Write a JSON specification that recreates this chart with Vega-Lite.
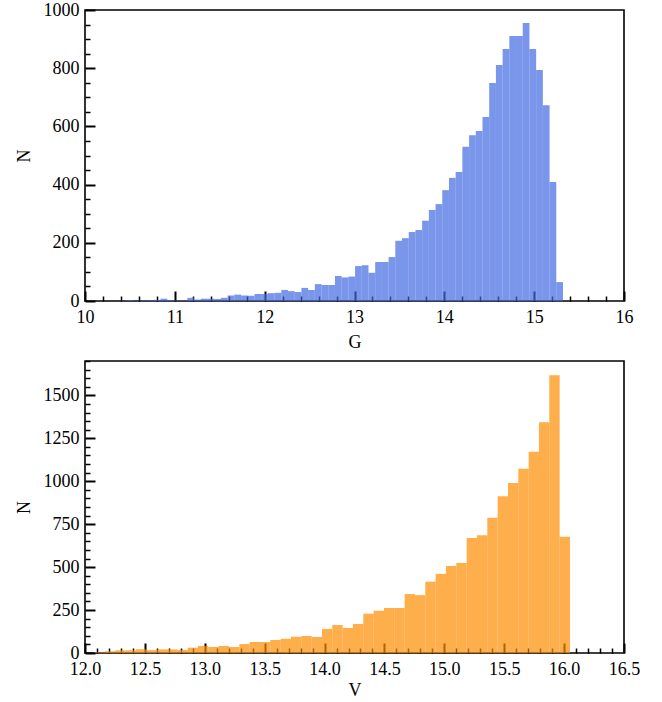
{
  "$schema": "https://vega.github.io/schema/vega-lite/v6.json",
  "padding": {"left": 14, "top": 0, "right": 10, "bottom": 4},
  "config": {
    "font": "Liberation Serif, DejaVu Serif, serif",
    "view": {"stroke": "#000000", "strokeWidth": 1.6},
    "axis": {
      "grid": false,
      "domain": false,
      "labelFont": "Liberation Serif, DejaVu Serif, serif",
      "labelFontSize": 18,
      "labelColor": "#000000",
      "labelFlush": false,
      "labelOverlap": false,
      "titleFont": "Liberation Serif, DejaVu Serif, serif",
      "titleFontSize": 18,
      "titleFontWeight": "normal",
      "titleColor": "#000000",
      "tickColor": "#000000"
    },
    "concat": {"spacing": 7}
  },
  "datasets": {
    "gmag": [
      {"g0": 10.3932, "g1": 10.4679, "n": 1},
      {"g0": 10.4679, "g1": 10.5426, "n": 3},
      {"g0": 10.5426, "g1": 10.6172, "n": 1},
      {"g0": 10.6172, "g1": 10.6919, "n": 2},
      {"g0": 10.6919, "g1": 10.7665, "n": 3},
      {"g0": 10.7665, "g1": 10.8412, "n": 4},
      {"g0": 10.8412, "g1": 10.9159, "n": 8},
      {"g0": 10.9159, "g1": 10.9905, "n": 3},
      {"g0": 10.9905, "g1": 11.0652, "n": 2},
      {"g0": 11.0652, "g1": 11.1398, "n": 2},
      {"g0": 11.1398, "g1": 11.2145, "n": 11},
      {"g0": 11.2145, "g1": 11.2892, "n": 5},
      {"g0": 11.2892, "g1": 11.3638, "n": 8},
      {"g0": 11.3638, "g1": 11.4385, "n": 8},
      {"g0": 11.4385, "g1": 11.5131, "n": 7},
      {"g0": 11.5131, "g1": 11.5878, "n": 11},
      {"g0": 11.5878, "g1": 11.6625, "n": 19},
      {"g0": 11.6625, "g1": 11.7371, "n": 22},
      {"g0": 11.7371, "g1": 11.8118, "n": 19},
      {"g0": 11.8118, "g1": 11.8864, "n": 18},
      {"g0": 11.8864, "g1": 11.9611, "n": 24},
      {"g0": 11.9611, "g1": 12.0358, "n": 24},
      {"g0": 12.0358, "g1": 12.1104, "n": 27},
      {"g0": 12.1104, "g1": 12.1851, "n": 28},
      {"g0": 12.1851, "g1": 12.2597, "n": 38},
      {"g0": 12.2597, "g1": 12.3344, "n": 34},
      {"g0": 12.3344, "g1": 12.4091, "n": 31},
      {"g0": 12.4091, "g1": 12.4837, "n": 45},
      {"g0": 12.4837, "g1": 12.5584, "n": 38},
      {"g0": 12.5584, "g1": 12.6330, "n": 58},
      {"g0": 12.6330, "g1": 12.7077, "n": 55},
      {"g0": 12.7077, "g1": 12.7824, "n": 55},
      {"g0": 12.7824, "g1": 12.8570, "n": 86},
      {"g0": 12.8570, "g1": 12.9317, "n": 81},
      {"g0": 12.9317, "g1": 13.0063, "n": 84},
      {"g0": 13.0063, "g1": 13.0810, "n": 120},
      {"g0": 13.0810, "g1": 13.1557, "n": 123},
      {"g0": 13.1557, "g1": 13.2303, "n": 97},
      {"g0": 13.2303, "g1": 13.3050, "n": 134},
      {"g0": 13.3050, "g1": 13.3796, "n": 134},
      {"g0": 13.3796, "g1": 13.4543, "n": 151},
      {"g0": 13.4543, "g1": 13.5290, "n": 207},
      {"g0": 13.5290, "g1": 13.6036, "n": 216},
      {"g0": 13.6036, "g1": 13.6783, "n": 237},
      {"g0": 13.6783, "g1": 13.7529, "n": 244},
      {"g0": 13.7529, "g1": 13.8276, "n": 276},
      {"g0": 13.8276, "g1": 13.9023, "n": 313},
      {"g0": 13.9023, "g1": 13.9769, "n": 333},
      {"g0": 13.9769, "g1": 14.0516, "n": 381},
      {"g0": 14.0516, "g1": 14.1262, "n": 423},
      {"g0": 14.1262, "g1": 14.2009, "n": 443},
      {"g0": 14.2009, "g1": 14.2756, "n": 530},
      {"g0": 14.2756, "g1": 14.3502, "n": 570},
      {"g0": 14.3502, "g1": 14.4249, "n": 584},
      {"g0": 14.4249, "g1": 14.4995, "n": 632},
      {"g0": 14.4995, "g1": 14.5742, "n": 749},
      {"g0": 14.5742, "g1": 14.6489, "n": 811},
      {"g0": 14.6489, "g1": 14.7235, "n": 866},
      {"g0": 14.7235, "g1": 14.7982, "n": 911},
      {"g0": 14.7982, "g1": 14.8728, "n": 911},
      {"g0": 14.8728, "g1": 14.9475, "n": 955},
      {"g0": 14.9475, "g1": 15.0222, "n": 866},
      {"g0": 15.0222, "g1": 15.0968, "n": 794},
      {"g0": 15.0968, "g1": 15.1715, "n": 673},
      {"g0": 15.1715, "g1": 15.2461, "n": 409},
      {"g0": 15.2461, "g1": 15.3208, "n": 65}
    ],
    "vmag": [
      {"v0": 12.0806, "v1": 12.1669, "n": 4},
      {"v0": 12.1669, "v1": 12.2531, "n": 10},
      {"v0": 12.2531, "v1": 12.3394, "n": 16},
      {"v0": 12.3394, "v1": 12.4257, "n": 16},
      {"v0": 12.4257, "v1": 12.5120, "n": 22},
      {"v0": 12.5120, "v1": 12.5982, "n": 17},
      {"v0": 12.5982, "v1": 12.6845, "n": 21},
      {"v0": 12.6845, "v1": 12.7708, "n": 21},
      {"v0": 12.7708, "v1": 12.8570, "n": 18},
      {"v0": 12.8570, "v1": 12.9433, "n": 31},
      {"v0": 12.9433, "v1": 13.0296, "n": 41},
      {"v0": 13.0296, "v1": 13.1158, "n": 35},
      {"v0": 13.1158, "v1": 13.2021, "n": 41},
      {"v0": 13.2021, "v1": 13.2884, "n": 35},
      {"v0": 13.2884, "v1": 13.3747, "n": 52},
      {"v0": 13.3747, "v1": 13.4609, "n": 64},
      {"v0": 13.4609, "v1": 13.5472, "n": 64},
      {"v0": 13.5472, "v1": 13.6335, "n": 76},
      {"v0": 13.6335, "v1": 13.7197, "n": 83},
      {"v0": 13.7197, "v1": 13.8060, "n": 95},
      {"v0": 13.8060, "v1": 13.8923, "n": 99},
      {"v0": 13.8923, "v1": 13.9785, "n": 93},
      {"v0": 13.9785, "v1": 14.0648, "n": 140},
      {"v0": 14.0648, "v1": 14.1511, "n": 163},
      {"v0": 14.1511, "v1": 14.2374, "n": 146},
      {"v0": 14.2374, "v1": 14.3236, "n": 169},
      {"v0": 14.3236, "v1": 14.4099, "n": 229},
      {"v0": 14.4099, "v1": 14.4962, "n": 246},
      {"v0": 14.4962, "v1": 14.5824, "n": 262},
      {"v0": 14.5824, "v1": 14.6687, "n": 262},
      {"v0": 14.6687, "v1": 14.7550, "n": 343},
      {"v0": 14.7550, "v1": 14.8412, "n": 337},
      {"v0": 14.8412, "v1": 14.9275, "n": 415},
      {"v0": 14.9275, "v1": 15.0138, "n": 461},
      {"v0": 15.0138, "v1": 15.1001, "n": 506},
      {"v0": 15.1001, "v1": 15.1863, "n": 524},
      {"v0": 15.1863, "v1": 15.2726, "n": 669},
      {"v0": 15.2726, "v1": 15.3589, "n": 686},
      {"v0": 15.3589, "v1": 15.4451, "n": 787},
      {"v0": 15.4451, "v1": 15.5314, "n": 913},
      {"v0": 15.5314, "v1": 15.6177, "n": 989},
      {"v0": 15.6177, "v1": 15.7039, "n": 1072},
      {"v0": 15.7039, "v1": 15.7902, "n": 1171},
      {"v0": 15.7902, "v1": 15.8765, "n": 1344},
      {"v0": 15.8765, "v1": 15.9628, "n": 1617},
      {"v0": 15.9628, "v1": 16.0490, "n": 677}
    ]
  },
  "vconcat": [
    {
      "width": 539,
      "height": 291,
      "data": {"name": "gmag"},
      "resolve": {"axis": {"x": "independent", "y": "independent"}},
      "layer": [
        {
          "mark": {"type": "rect", "fill": "#4169E1", "fillOpacity": 0.7},
          "encoding": {
            "x": {
              "field": "g0", "type": "quantitative",
              "scale": {"domain": [10, 16], "nice": false, "zero": false},
              "axis": {
                "orient": "bottom", "title": "G", "format": "d",
                "values": [10, 11, 12, 13, 14, 15, 16],
                "tickSize": -10, "tickWidth": 2, "labelPadding": 17, "titlePadding": 7
              }
            },
            "x2": {"field": "g1"},
            "y": {
              "field": "n", "type": "quantitative",
              "scale": {"domain": [0, 1000], "nice": false},
              "axis": {
                "orient": "left", "title": "N", "format": "d",
                "values": [0, 200, 400, 600, 800, 1000],
                "tickSize": -10, "tickWidth": 2, "labelPadding": 16, "titlePadding": 10
              }
            },
            "y2": {"datum": 0}
          }
        },
        {
          "mark": {"type": "rect", "opacity": 0},
          "encoding": {
            "x": {
              "field": "g0", "type": "quantitative",
              "axis": {
                "orient": "bottom", "title": null, "labels": false,
                "values": [10.2, 10.4, 10.6, 10.8, 11.2, 11.4, 11.6, 11.8, 12.2, 12.4, 12.6, 12.8, 13.2, 13.4, 13.6, 13.8, 14.2, 14.4, 14.6, 14.8, 15.2, 15.4, 15.6, 15.8],
                "tickSize": -5, "tickWidth": 1.5
              }
            },
            "x2": {"field": "g1"},
            "y": {
              "field": "n", "type": "quantitative",
              "axis": {
                "orient": "left", "title": null, "labels": false,
                "values": [50, 100, 150, 250, 300, 350, 450, 500, 550, 650, 700, 750, 850, 900, 950],
                "tickSize": -5, "tickWidth": 1.5
              }
            },
            "y2": {"datum": 0}
          }
        }
      ]
    },
    {
      "width": 539,
      "height": 292,
      "data": {"name": "vmag"},
      "resolve": {"axis": {"x": "independent", "y": "independent"}},
      "layer": [
        {
          "mark": {"type": "rect", "fill": "#FF8C00", "fillOpacity": 0.7},
          "encoding": {
            "x": {
              "field": "v0", "type": "quantitative",
              "scale": {"domain": [12, 16.5], "nice": false, "zero": false},
              "axis": {
                "orient": "bottom", "title": "V", "format": ".1f",
                "values": [12, 12.5, 13, 13.5, 14, 14.5, 15, 15.5, 16, 16.5],
                "tickSize": -10, "tickWidth": 2, "labelPadding": 17, "titlePadding": 3
              }
            },
            "x2": {"field": "v1"},
            "y": {
              "field": "n", "type": "quantitative",
              "scale": {"domain": [0, 1700], "nice": false},
              "axis": {
                "orient": "left", "title": "N", "format": "d",
                "values": [0, 250, 500, 750, 1000, 1250, 1500],
                "tickSize": -10, "tickWidth": 2, "labelPadding": 16, "titlePadding": 10
              }
            },
            "y2": {"datum": 0}
          }
        },
        {
          "mark": {"type": "rect", "opacity": 0},
          "encoding": {
            "x": {
              "field": "v0", "type": "quantitative",
              "axis": {
                "orient": "bottom", "title": null, "labels": false,
                "values": [12.1, 12.2, 12.3, 12.4, 12.6, 12.7, 12.8, 12.9, 13.1, 13.2, 13.3, 13.4, 13.6, 13.7, 13.8, 13.9, 14.1, 14.2, 14.3, 14.4, 14.6, 14.7, 14.8, 14.9, 15.1, 15.2, 15.3, 15.4, 15.6, 15.7, 15.8, 15.9, 16.1, 16.2, 16.3, 16.4],
                "tickSize": -5, "tickWidth": 1.5
              }
            },
            "x2": {"field": "v1"},
            "y": {
              "field": "n", "type": "quantitative",
              "axis": {
                "orient": "left", "title": null, "labels": false,
                "values": [50, 100, 150, 200, 300, 350, 400, 450, 550, 600, 650, 700, 800, 850, 900, 950, 1050, 1100, 1150, 1200, 1300, 1350, 1400, 1450, 1550, 1600, 1650, 1700],
                "tickSize": -5, "tickWidth": 1.5
              }
            },
            "y2": {"datum": 0}
          }
        }
      ]
    }
  ]
}
